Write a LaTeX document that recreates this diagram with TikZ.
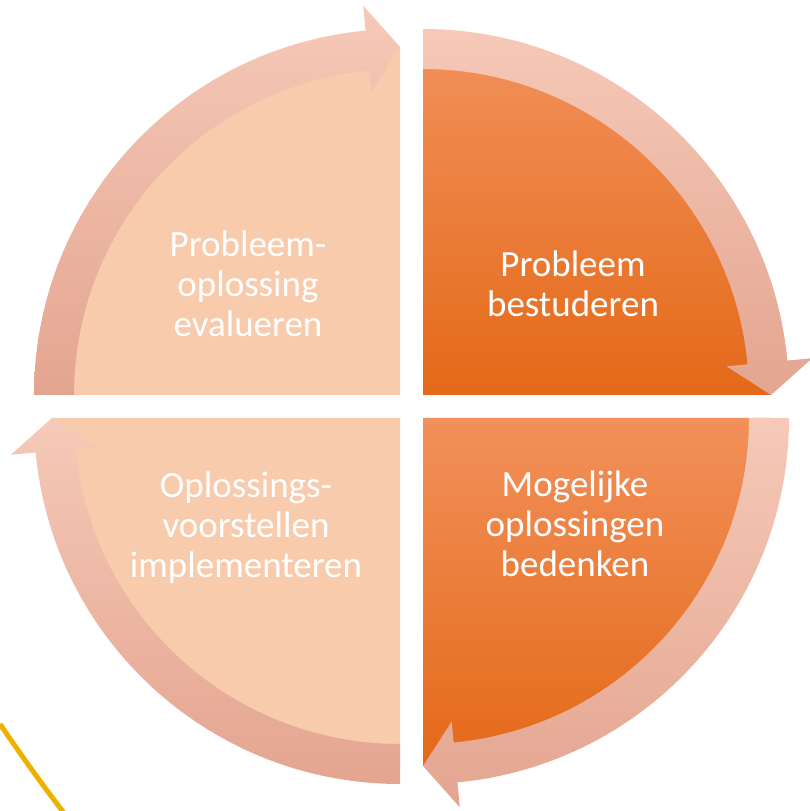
\documentclass[tikz,border=0pt]{standalone}
\usepackage{fontspec}
\setmainfont{Carlito}
\usepackage{tikz}

\definecolor{OrangeTop}{HTML}{F2905A}
\definecolor{OrangeMid}{HTML}{F47F2F}
\definecolor{OrangeBot}{HTML}{E46918}
\definecolor{Peach}{HTML}{F7CBAC}
\definecolor{ArrowTop}{HTML}{F6C9B8}
\definecolor{ArrowBot}{HTML}{E3A590}
\definecolor{Gold}{HTML}{EFB100}

% curved arrow round one quarter: centre, start angle, tip angle
\newcommand{\ringarrow}[3]{%
  \path[band, shift={(#1)}] (#2:366) arc[start angle=#2, end angle=#3+5.4, radius=366]
    -- (#3+5.4:391) -- (#3:348) -- (#3+5.4:305) -- (#3+5.4:326)
    arc[start angle=#3+5.4, end angle=#2, radius=326] -- cycle;}

\begin{document}
\begin{tikzpicture}[x=1pt, y=1pt,
    hot/.style={top color=OrangeTop, middle color=OrangeMid, bottom color=OrangeBot},
    soft/.style={fill=Peach},
    band/.style={top color=ArrowTop, bottom color=ArrowBot},
    steptext/.style={text=white, font=\fontsize{37}{40}\selectfont, align=center, inner sep=0pt}]
    \useasboundingbox (0,0) rectangle (809,811);

    % quarters
    \path[hot]  (423,416) -- ++(0,348) arc[start angle=90, end angle=0, radius=348] -- cycle;
    \path[hot]  (423,393) -- ++(348,0) arc[start angle=0, end angle=-90, radius=348] -- cycle;
    \path[soft] (400,393) -- ++(0,-348) arc[start angle=-90, end angle=-180, radius=348] -- cycle;
    \path[soft] (400,416) -- ++(-348,0) arc[start angle=180, end angle=90, radius=348] -- cycle;

    % arrows
    \ringarrow{423,416}{90}{0}
    \ringarrow{423,393}{0}{-90}
    \ringarrow{400,393}{-90}{-180}
    \ringarrow{400,416}{180}{90}

    \draw[Gold, line width=5] (0,87) .. controls (21,56) and (41,28) .. (64,-2);

    % anchor base sits on the last line
    \node[steptext, anchor=base] (study)  at (573,494) {Probleem\\bestuderen};
    \node[steptext, anchor=base] (ideas)  at (575,234) {Mogelijke\\oplossingen\\bedenken};
    \node[steptext, anchor=base] (apply)  at (246,233) {Oplossings-\\voorstellen\\implementeren};
    \node[steptext, anchor=base] (review) at (248,474) {Probleem-\\oplossing\\evalueren};
\end{tikzpicture}
\end{document}
